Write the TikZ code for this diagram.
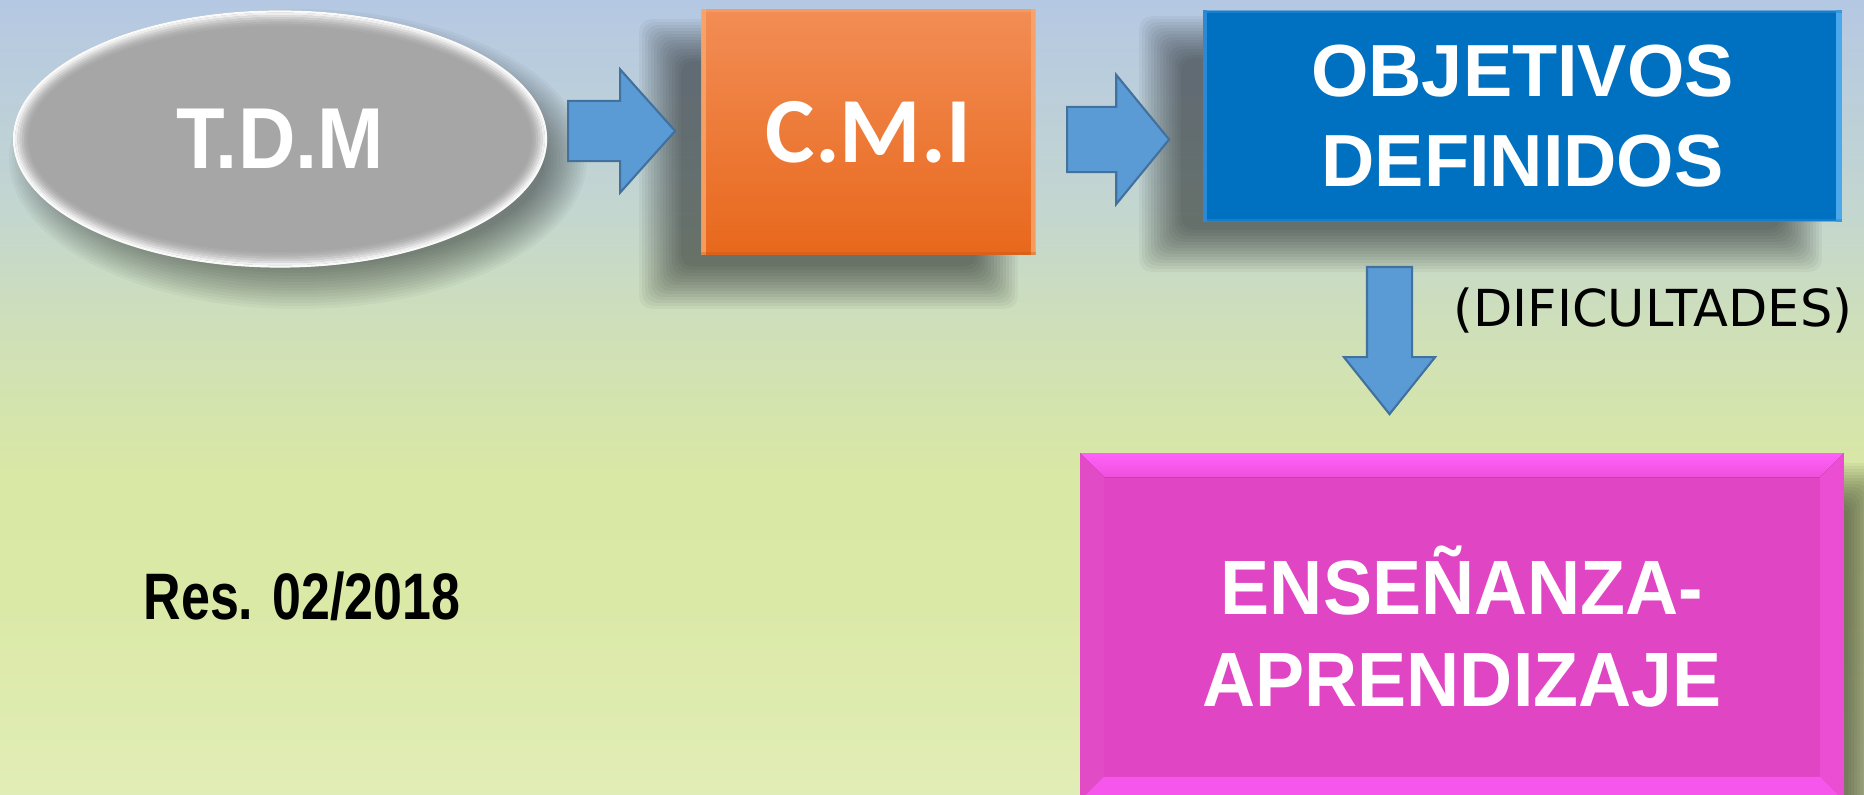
\documentclass[tikz,border=0pt]{standalone}
\usepackage{fontspec}
\setmainfont{Liberation Sans}
\newfontfamily\fTDM[FakeStretch=0.92]{Liberation Sans}
\newfontfamily\fENS[FakeStretch=0.955]{Liberation Sans}
\newfontfamily\fRES[FakeStretch=0.79]{Liberation Sans}
\newfontfamily\fOBJ{Liberation Sans}
\newfontfamily\fCMI{Carlito}
\newfontfamily\fDIF{DejaVu Sans}
\usetikzlibrary{shapes.geometric,shapes.arrows,calc}
\definecolor{bgA}{HTML}{B5C8E3}
\definecolor{bgB}{HTML}{C3D6D0}
\definecolor{bgC}{HTML}{CFE0B8}
\definecolor{bgD}{HTML}{D9E8A4}
\definecolor{bgE}{HTML}{DBE9A7}
\definecolor{bgF}{HTML}{E1EDB6}
\definecolor{tdmgray}{HTML}{A6A6A6}
\definecolor{orTop}{HTML}{F28D55}
\definecolor{orBot}{HTML}{E8681C}
\definecolor{orEdge}{HTML}{F9A86E}
\definecolor{objblue}{HTML}{0070C0}
\definecolor{objedge}{HTML}{4AA8EC}
\definecolor{objedgeL}{HTML}{2A8AD6}
\definecolor{pinkmain}{HTML}{E045C4}
\definecolor{pinktop}{HTML}{FF62FA}
\definecolor{pinktop2}{HTML}{EE50DA}
\definecolor{pinkside}{HTML}{EC4ED3}
\definecolor{pinkbot}{HTML}{F656EC}
\definecolor{arrowfill}{HTML}{5B9BD5}
\definecolor{arrowdraw}{HTML}{41719C}
\pgfdeclareverticalshading{bgshade}{100bp}{color(0bp)=(bgF); color(25bp)=(bgF); color(37bp)=(bgE); color(45bp)=(bgD); color(54bp)=(bgC); color(62bp)=(bgB); color(75bp)=(bgA); color(100bp)=(bgA)}
\pgfdeclarelayer{bglayer}
\pgfdeclarelayer{shlayer}
\pgfsetlayers{bglayer,shlayer,main}
\begin{document}
\begin{tikzpicture}[x=0.01cm,y=-0.01cm,
  barrow/.style={single arrow, fill=arrowfill, draw=arrowdraw, line width=0.6pt,
    inner xsep=0pt, anchor=tail},
  boxtext/.style={text=white, inner sep=0pt},
  shadowlayer/.style={black, opacity=0.038, rounded corners=0.12cm}]
\useasboundingbox (0,0) rectangle (1864,795);
\begin{pgfonlayer}{bglayer}
\fill[shading=bgshade] (0,0) rectangle (1864,795);
\end{pgfonlayer}

% T.D.M ellipse
\node[ellipse, fill=tdmgray, minimum width=5.34cm, minimum height=2.57cm, inner sep=0pt] (tdm) at (280,139) {};
\foreach \i/\o in {0/0.95,1/0.8,2/0.6,3/0.42,4/0.26,5/0.14,6/0.06}
  \draw[white, opacity=\o, line width=0.022cm] (tdm.center) ellipse [x radius={266-2.2*\i}, y radius={127.5-2.2*\i}];
\node[boxtext, font=\fTDM\bfseries\fontsize{24.6}{29}\selectfont] (tdmtext) at (tdm.center) {T.D.M};

% C.M.I box
\node[rectangle, top color=orTop, bottom color=orBot, minimum width=3.33cm, minimum height=2.44cm, inner sep=0pt] (cmi) at (868.5,132) {};
\fill[orEdge, opacity=0.8] (cmi.north west) rectangle ($(cmi.south west)+(5,0)$);
\fill[orEdge, opacity=0.8] ($(cmi.north east)+(-5,0)$) rectangle (cmi.south east);
\fill[orEdge, opacity=0.5] (cmi.north west) rectangle ($(cmi.north east)+(0,3)$);
\fill[orBot!80!black, opacity=0.3] ($(cmi.south west)+(0,-3)$) rectangle (cmi.south east);
\node[boxtext, font=\fCMI\bfseries\fontsize{26.5}{31}\selectfont] (cmitext) at (cmi.center) {C.M.I};

% OBJETIVOS box
\node[rectangle, fill=objblue, minimum width=6.37cm, minimum height=2.10cm, inner sep=0pt] (obj) at (1522.5,116) {};
\fill[objedgeL] (obj.north west) rectangle ($(obj.south west)+(4,0)$);
\fill[objedge] ($(obj.north east)+(-6,0)$) rectangle (obj.south east);
\fill[objedgeL, opacity=0.6] (obj.north west) rectangle ($(obj.north east)+(0,3)$);
\fill[objedgeL, opacity=0.5] ($(obj.south west)+(0,-3)$) rectangle (obj.south east);
\node[boxtext, align=center, font=\fOBJ\bfseries\fontsize{21}{25.6}\selectfont] (objtext) at (obj.center) {OBJETIVOS\\DEFINIDOS};

% ENSENANZA box
\node[rectangle, fill=pinkmain, minimum width=7.62cm, minimum height=3.46cm, inner sep=0pt] (ens) at (1462,627) {};
\fill[top color=pinktop, bottom color=pinktop2] (ens.north west) -- (ens.north east) -- ($(ens.north east)+(-24,24)$) -- ($(ens.north west)+(24,24)$) -- cycle;
\fill[pinkside] (ens.north east) -- ($(ens.north east)+(-24,24)$) -- ($(ens.south east)+(-24,-24)$) -- (ens.south east) -- cycle;
\fill[pinkmain!96!white] (ens.north west) -- ($(ens.north west)+(24,24)$) -- ($(ens.south west)+(24,-24)$) -- (ens.south west) -- cycle;
\fill[pinkbot] (ens.south west) -- ($(ens.south west)+(24,-24)$) -- ($(ens.south east)+(-24,-24)$) -- (ens.south east) -- cycle;
\node[boxtext, align=center, font=\fENS\bfseries\fontsize{21.9}{26.2}\selectfont] (enstext) at (ens.center) {ENSEÑANZA-\\APRENDIZAJE};

% soft shadows
\begin{pgfonlayer}{shlayer}
\foreach \e in {22,19,...,-20} {
  \fill[black, opacity=0.03] ($(tdm.center)+(18,20)$) ellipse [x radius={267+\e}, y radius={128+\e}];
  \fill[shadowlayer] ($(cmi.north west)+(-40-\e,32-\e)$) rectangle ($(cmi.south east)+(-40+\e,32+\e)$);
  \fill[shadowlayer] ($(obj.north west)+(-42-\e,28-\e)$) rectangle ($(obj.south east)+(-42+\e,28+\e)$);
  \fill[shadowlayer] ($(ens.north west)+(24-\e,32-\e)$) rectangle ($(ens.south east)+(24+\e,32+\e)$);
}
\end{pgfonlayer}

% block arrows
\node[barrow, minimum height=1.07cm, inner ysep=0.29cm, single arrow head extend=0.315cm, single arrow tip angle=96.5] (a1) at (567,131) {};
\node[barrow, minimum height=1.02cm, inner ysep=0.315cm, single arrow head extend=0.32cm, single arrow tip angle=101.4] (a2) at (1066,139.5) {};
\node[barrow, rotate=-90, minimum height=1.47cm, inner ysep=0.215cm, single arrow head extend=0.23cm, single arrow tip angle=77.3] (a3) at (1389.5,266) {};

% labels
\node[anchor=base west, inner sep=0pt, font=\fDIF\fontsize{14.5}{17}\selectfont] (dif) at (1453,327) {(DIFICULTADES)};
\node[anchor=base, inner sep=0pt, font=\fRES\bfseries\fontsize{18.7}{22}\selectfont] (res) at (302,620) {Res. 02/2018};
\end{tikzpicture}
\end{document}
